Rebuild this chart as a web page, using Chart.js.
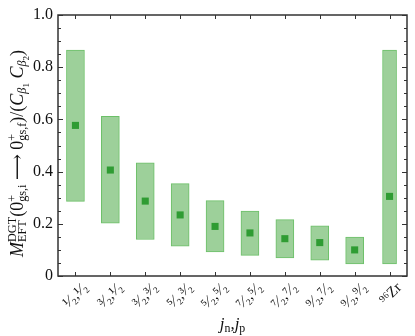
<!DOCTYPE html>
<html>
<head>
<meta charset="utf-8">
<script src="https://cdn.jsdelivr.net/npm/chart.js@4.4.0/dist/chart.umd.min.js"></script>
<style>
  html, body { margin: 0; padding: 0; background: #fff; }
  #wrap { width: 415px; height: 336px; }
</style>
</head>
<body>
<div id="wrap"><canvas id="myChart" width="415" height="336"></canvas></div>
<script>
'use strict';

// j_n, j_p pairs (last one is the 96Zr reference)
const jLabels = ['¹⁄₂,¹⁄₂', '³⁄₂,¹⁄₂', '³⁄₂,³⁄₂', '⁵⁄₂,³⁄₂', '⁵⁄₂,⁵⁄₂', '⁷⁄₂,⁵⁄₂', '⁷⁄₂,⁷⁄₂', '⁹⁄₂,⁷⁄₂', '⁹⁄₂,⁹⁄₂', '⁹⁶Zr'];
const lowerVals = [0.286, 0.202, 0.140, 0.114, 0.092, 0.079, 0.069, 0.061, 0.046, 0.046];
const upperVals = [0.866, 0.612, 0.434, 0.354, 0.289, 0.249, 0.216, 0.192, 0.149, 0.866];
const centralVals = [0.577, 0.406, 0.287, 0.234, 0.190, 0.165, 0.143, 0.128, 0.100, 0.305];
const yTicks = [0, 0.2, 0.4, 0.6, 0.8, 1.0];

const fillGreen = '#9dd09a';
const edgeGreen = '#6cc068';
const dotGreen = '#2f9c33';
const serif = '"Liberation Serif", "DejaVu Serif", serif';

// bands: nuclei pairs and 96Zr are separate because the Zr bar is thinner
let bandData = [];
let zrData = [];
for (let i = 0; i < jLabels.length; i++) {
  const pair = [lowerVals[i], upperVals[i]];
  if (jLabels[i] === '⁹⁶Zr') {
    bandData.push(null);
    zrData.push(pair);
  } else {
    bandData.push(pair);
    zrData.push(null);
  }
}

function layoutRich(ctx, items, base) {
  let start = 0;
  let end = 0;
  items.forEach(function(it) {
    ctx.font = (it.i ? 'italic ' : '') + (base * (it.s || 1)) + 'px ' + serif;
    const w = ctx.measureText(it.t).width;
    if (it.k) {
      it.x = start;
      end = Math.max(end, start + w);
    } else {
      start = end;
      it.x = start;
      end = start + w;
    }
  });
  return end;
}

function drawRich(ctx, items, base, cx, cy, angle) {
  const total = layoutRich(ctx, items, base);
  ctx.save();
  ctx.translate(cx, cy);
  ctx.rotate(angle);
  ctx.fillStyle = '#111';
  ctx.textBaseline = 'alphabetic';
  ctx.textAlign = 'left';
  items.forEach(function(it) {
    ctx.font = (it.i ? 'italic ' : '') + (base * (it.s || 1)) + 'px ' + serif;
    ctx.fillText(it.t, it.x - total / 2, 5 + (it.dy || 0));
  });
  ctx.restore();
}

const yTitle = [
  {t: 'M', i: 1},
  {t: 'DGT', s: 0.68, dy: -7},
  {t: 'EFT', s: 0.68, dy: 3, k: 1},
  {t: '(0'},
  {t: '+', s: 0.68, dy: -7},
  {t: 'gs,i', s: 0.68, dy: 3, k: 1},
  {t: ' ⟶ '},
  {t: '0'},
  {t: '+', s: 0.68, dy: -7},
  {t: 'gs,f', s: 0.68, dy: 3, k: 1},
  {t: ')/('},
  {t: 'C', i: 1},
  {t: 'β', i: 1, s: 0.68, dy: 3},
  {t: '1', s: 0.5, dy: 6},
  {t: ' C', i: 1},
  {t: 'β', i: 1, s: 0.68, dy: 3},
  {t: '2', s: 0.5, dy: 6},
  {t: ')'}
];

const xTitle = [
  {t: 'j', i: 1},
  {t: 'n', s: 0.7, dy: 3},
  {t: ','},
  {t: 'j', i: 1},
  {t: 'p', s: 0.7, dy: 3}
];

const framePlugin = {
  id: 'frame',
  afterDatasetsDraw(chart) {
    const ctx = chart.ctx;
    const area = chart.chartArea;
    const ys = chart.scales.y;
    const xs = chart.scales.x;
    ctx.save();
    ctx.strokeStyle = '#333';
    ctx.lineWidth = 1;
    ctx.beginPath();
    for (let k = 0; k <= 20; k++) {
      const y = Math.round(ys.getPixelForValue(k * 0.05)) + 0.5;
      const len = k % 4 === 0 ? 5 : 3;
      ctx.moveTo(area.left, y);
      ctx.lineTo(area.left + len, y);
      ctx.moveTo(area.right, y);
      ctx.lineTo(area.right - len, y);
    }
    for (let i = 0; i < jLabels.length; i++) {
      const x = Math.round(xs.getPixelForValue(i)) + 0.5;
      ctx.moveTo(x, area.bottom);
      ctx.lineTo(x, area.bottom - 4);
      ctx.moveTo(x, area.top);
      ctx.lineTo(x, area.top + 4);
    }
    ctx.stroke();
    ctx.lineWidth = 1.5;
    ctx.strokeRect(area.left, area.top, area.right - area.left, area.bottom - area.top);
    ctx.restore();
  },
  afterDraw(chart) {
    const ctx = chart.ctx;
    const area = chart.chartArea;
    drawRich(ctx, yTitle, 18, 18, (area.top + area.bottom) / 2 + 8, -Math.PI / 2);
    drawRich(ctx, xTitle, 17, (area.left + area.right) / 2, 324, 0);
  }
};

const ctx = document.getElementById('myChart').getContext('2d');
const myChart = new Chart(ctx, {
  type: 'bar',
  data: {
    labels: jLabels,
    datasets: [
      {
        type: 'line',
        data: centralVals,
        showLine: false,
        pointStyle: 'rect',
        pointRadius: 5,
        pointBackgroundColor: dotGreen,
        pointBorderColor: dotGreen,
        pointBorderWidth: 0,
        order: 0
      },
      {
        data: bandData,
        backgroundColor: fillGreen,
        borderColor: edgeGreen,
        borderWidth: 1,
        borderSkipped: false,
        barThickness: 18,
        grouped: false,
        order: 1
      },
      {
        data: zrData,
        backgroundColor: fillGreen,
        borderColor: edgeGreen,
        borderWidth: 1,
        borderSkipped: false,
        barThickness: 14,
        grouped: false,
        order: 1
      }
    ]
  },
  options: {
    responsive: false,
    animation: false,
    layout: {
      padding: {top: 15, right: 8, bottom: 0, left: 0}
    },
    plugins: {
      legend: {display: false},
      tooltip: {enabled: false}
    },
    scales: {
      x: {
        offset: true,
        grid: {display: false, drawTicks: false},
        border: {display: false},
        afterFit: function(scale) { scale.height = 60; },
        ticks: {
          color: '#111',
          font: {family: serif, size: 15},
          minRotation: 45,
          maxRotation: 45,
          padding: 3,
          labelOffset: 10,
          autoSkip: false
        }
      },
      y: {
        min: 0,
        max: 1,
        grid: {display: false, drawTicks: false},
        border: {display: false},
        afterFit: function(scale) { scale.width = 58; },
        afterBuildTicks: function(scale) {
          scale.ticks = yTicks.map(function(v) { return {value: v}; });
        },
        ticks: {
          color: '#111',
          font: {family: serif, size: 16},
          padding: 5,
          callback: function(v) { return v === 0 ? '0' : v.toFixed(1); }
        }
      }
    }
  },
  plugins: [framePlugin]
});
</script>
</body>
</html>
